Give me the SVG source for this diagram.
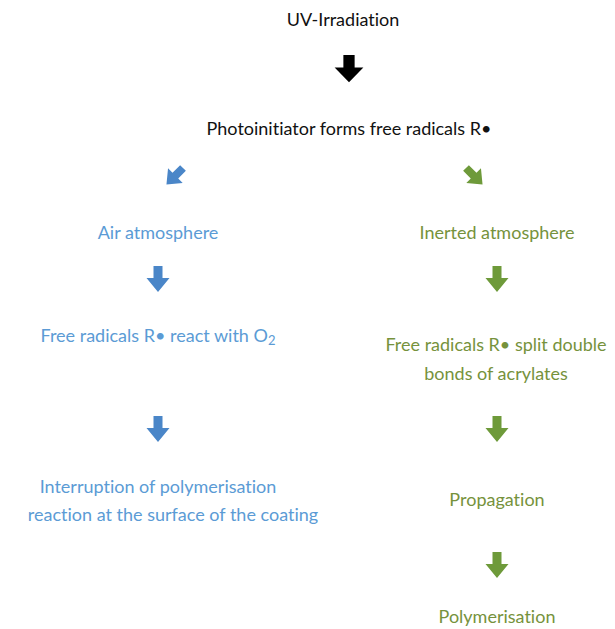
<svg xmlns="http://www.w3.org/2000/svg" width="615" height="629" viewBox="0 0 615 629">
<defs>
<style>
text{font-family:Lato,"Open Sans","Liberation Sans",sans-serif;font-size:18px;text-anchor:middle;font-variant-ligatures:none}
.k{fill:#111}
.b{fill:#5b9bd5}
.g{fill:#76923c}
</style>
<path id="arr" d="M-4.5,0 H4.5 V12 H11.5 L0,26 L-11.5,12 H-4.5 Z"/>
</defs>
<rect width="615" height="629" fill="#fff"/>
<g id="connectors">
<use href="#arr" transform="translate(349,55) scale(1.25,1.05)" fill="#000"/>
<use href="#arr" transform="translate(183,168) rotate(45) scale(0.9)" fill="#4a86c8"/>
<use href="#arr" transform="translate(466,168) rotate(-45) scale(0.9)" fill="#6e9a3a"/>
<use href="#arr" transform="translate(158,266)" fill="#4a86c8"/>
<use href="#arr" transform="translate(158,416)" fill="#4a86c8"/>
<use href="#arr" transform="translate(497,266)" fill="#6e9a3a"/>
<use href="#arr" transform="translate(497,416)" fill="#6e9a3a"/>
<use href="#arr" transform="translate(497,552)" fill="#6e9a3a"/>
</g>
<g id="n-uv"><text class="k" x="343" y="26">UV-Irradiation</text></g>
<g id="n-photo"><text class="k" x="349" y="135">Photoinitiator forms free radicals R•</text></g>
<g id="n-air"><text class="b" x="158" y="239">Air atmosphere</text></g>
<g id="n-inert"><text class="g" x="497" y="239">Inerted atmosphere</text></g>
<g id="n-react"><text class="b" x="158" y="342">Free radicals R• react with O<tspan font-size="13" dy="3">2</tspan></text></g>
<g id="n-split"><text class="g" x="496" y="351">Free radicals R• split double</text><text class="g" x="496" y="380">bonds of acrylates</text></g>
<g id="n-interrupt"><text class="b" x="158" y="493">Interruption of polymerisation</text><text class="b" x="173" y="521">reaction at the surface of the coating</text></g>
<g id="n-prop"><text class="g" x="497" y="506">Propagation</text></g>
<g id="n-poly"><text class="g" x="497" y="623">Polymerisation</text></g>
</svg>
